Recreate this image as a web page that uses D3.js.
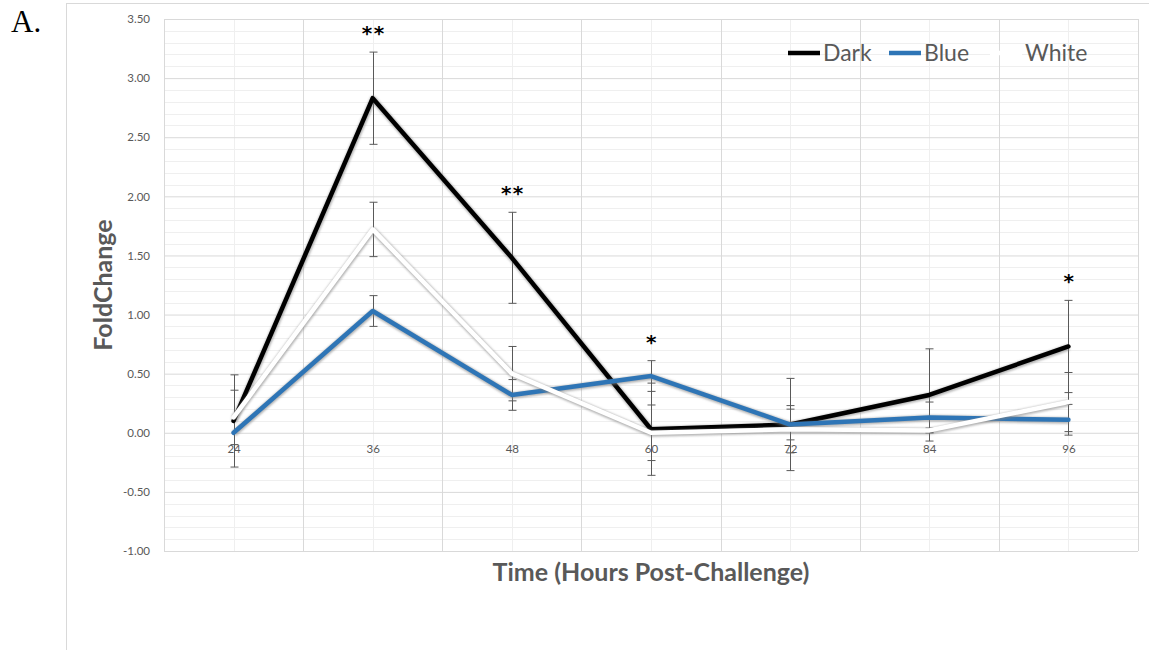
<!DOCTYPE html>
<html>
<head>
<meta charset="utf-8">
<script src="https://cdn.jsdelivr.net/npm/d3@7"></script>
<style>
  html, body { margin: 0; padding: 0; background: #fff; }
  svg { display: block; }
  text { font-family: Lato, "Open Sans", sans-serif; }
</style>
</head>
<body>
<svg id="chart" width="1149" height="650"></svg>
<script>
// Sampling times (hours after challenge)
const hours = ["24", "36", "48", "60", "72", "84", "96"];

// Mean fold change per light condition
const darkValues  = [0.10, 2.83, 1.48, 0.03, 0.07, 0.32, 0.73];
const blueValues  = [0.00, 1.03, 0.32, 0.48, 0.07, 0.13, 0.11];
const whiteValues = [0.13, 1.72, 0.50, 0.00, 0.03, 0.02, 0.26];

// Error bar half-widths
const darkErr  = [0.39, 0.39, 0.385, 0.39, 0.39, 0.39, 0.39];
const blueErr  = [0.00, 0.13, 0.13, 0.13, 0.13, 0.13, 0.13];
const whiteErr = [0.23, 0.23, 0.23, 0.235, 0.20, 0.02, 0.25];

// Significance marks above the highest error bar at each time
const significance = ["", "**", "**", "*", "", "", "*"];

const yTicks = [-1.0, -0.5, 0.0, 0.5, 1.0, 1.5, 2.0, 2.5, 3.0, 3.5];
const seriesNames = ["Dark", "Blue", "White"];

const series = [
  { name: seriesNames[0], values: darkValues,  err: darkErr,  color: "#000000" },
  { name: seriesNames[1], values: blueValues,  err: blueErr,  color: "#2E75B6" },
  { name: seriesNames[2], values: whiteValues, err: whiteErr, color: "#FFFFFF" }
];

const svg = d3.select("#chart");
const plot = { left: 164, right: 1138, top: 19, bottom: 551 };

const x = d3.scalePoint().domain(hours).range([plot.left, plot.right]).padding(0.5);
const band = d3.scaleBand().domain(hours).range([plot.left, plot.right]);
const y = d3.scaleLinear().domain([-1, 3.5]).range([plot.bottom, plot.top]);

// Two decimals with a plain hyphen for negatives
const fmt2 = d => d3.format(".2f")(d).replace("\u2212", "-");

// Panel letter
svg.append("text")
  .attr("x", 11).attr("y", 32)
  .style("font-family", "'Liberation Serif', 'DejaVu Serif', serif")
  .style("font-size", "31px")
  .attr("fill", "#000")
  .text("A.");

// Chart area frame
svg.append("rect")
  .attr("x", 66.5).attr("y", 3.5)
  .attr("width", 1200).attr("height", 800)
  .attr("fill", "none").attr("stroke", "#d9d9d9").attr("stroke-width", 1);

// Minor horizontal gridlines (every 0.1)
const minorY = d3.range(-10, 36).map(d => d / 10).filter(v => Math.abs(v * 2 - Math.round(v * 2)) > 1e-6);
svg.append("g").selectAll("line").data(minorY).join("line")
  .attr("x1", plot.left).attr("x2", plot.right)
  .attr("y1", d => Math.round(y(d)) + 0.5).attr("y2", d => Math.round(y(d)) + 0.5)
  .attr("stroke", "#efefef").attr("stroke-width", 1);

// Minor vertical gridlines at the sampling times
svg.append("g").selectAll("line").data(hours).join("line")
  .attr("x1", d => Math.round(x(d)) + 0.5).attr("x2", d => Math.round(x(d)) + 0.5)
  .attr("y1", plot.top).attr("y2", plot.bottom)
  .attr("stroke", "#efefef").attr("stroke-width", 1);

// Major horizontal gridlines with tick labels
const yAxis = svg.append("g")
  .attr("transform", `translate(${plot.left},0)`)
  .call(d3.axisLeft(y).tickValues(yTicks).tickFormat(fmt2)
    .tickSize(-(plot.right - plot.left)).tickPadding(14));
yAxis.select(".domain").remove();
yAxis.selectAll(".tick line").attr("stroke", "#d9d9d9");
yAxis.selectAll(".tick text")
  .attr("fill", "#595959")
  .style("font-size", "11.5px")
  .style("font-family", "Lato, sans-serif");

// Major vertical gridlines at category boundaries
const bounds = hours.map(h => band(h)).concat([plot.right]);
svg.append("g").selectAll("line").data(bounds).join("line")
  .attr("x1", d => Math.round(d) + 0.5).attr("x2", d => Math.round(d) + 0.5)
  .attr("y1", plot.top).attr("y2", plot.bottom)
  .attr("stroke", "#d9d9d9").attr("stroke-width", 1);

// Category labels sit at the zero line
const xAxis = svg.append("g")
  .attr("transform", `translate(0,${y(0)})`)
  .call(d3.axisBottom(x).tickSize(0).tickPadding(12));
xAxis.select(".domain").remove();
xAxis.selectAll(".tick text")
  .attr("fill", "#595959")
  .style("font-size", "11.5px")
  .style("font-family", "Lato, sans-serif");

// Blur used for the soft halo under each series line
const defs = svg.append("defs");
defs.append("filter").attr("id", "halo")
  .attr("x", "-5%").attr("y", "-10%").attr("width", "110%").attr("height", "120%")
  .append("feGaussianBlur").attr("stdDeviation", 0.8);

// Error bars
const errG = svg.append("g");
series.forEach(s => {
  hours.forEach((h, i) => {
    const e = s.err[i];
    if (!e) return;
    const cx = Math.round(x(h)) + 0.5;
    const top = y(s.values[i] + e), bot = y(s.values[i] - e);
    errG.append("line").attr("x1", cx).attr("x2", cx).attr("y1", top).attr("y2", bot)
      .attr("stroke", "#595959").attr("stroke-width", 1);
    [top, bot].forEach(v => {
      errG.append("line").attr("x1", cx - 4).attr("x2", cx + 4).attr("y1", v).attr("y2", v)
        .attr("stroke", "#595959").attr("stroke-width", 1);
    });
  });
});

// Series lines, each drawn over a blurred grey halo
const line = d3.line().x((d, i) => x(hours[i])).y(d => y(d));
const seriesG = svg.append("g").selectAll("g").data(series).join("g");
seriesG.append("path")
  .attr("d", d => line(d.values))
  .attr("transform", "translate(0.4,0.8)")
  .attr("fill", "none")
  .attr("stroke", "#808080")
  .attr("stroke-opacity", 0.6)
  .attr("stroke-width", 6.2)
  .attr("stroke-linejoin", "round")
  .attr("filter", "url(#halo)");
seriesG.append("path")
  .attr("d", d => line(d.values))
  .attr("fill", "none")
  .attr("stroke", d => d.color)
  .attr("stroke-width", 4.5)
  .attr("stroke-linejoin", "round")
  .attr("stroke-linecap", "round");

// Significance asterisks
const topOfBars = hours.map((h, i) => d3.max(series, s => s.values[i] + s.err[i]));
svg.append("g").selectAll("text").data(hours.map((h, i) => ({ h, i })).filter(d => significance[d.i]))
  .join("text")
  .attr("x", d => x(d.h) + 1)
  .attr("y", d => y(topOfBars[d.i]) - 12)
  .attr("text-anchor", "middle")
  .style("font-family", "'DejaVu Sans', sans-serif")
  .style("font-weight", "bold")
  .style("font-size", "20px")
  .style("letter-spacing", "1.5px")
  .attr("fill", "#000")
  .text(d => significance[d.i]);

// Legend
const legend = svg.append("g").attr("transform", "translate(788,53)");
const item = legend.selectAll("g").data(series).join("g")
  .attr("transform", (d, i) => `translate(${i * 101},0)`);
item.append("line").attr("x1", 0).attr("x2", 32).attr("y1", 0).attr("y2", 0)
  .attr("stroke", d => d.color).attr("stroke-width", 4.5);
item.append("text").attr("x", 35).attr("y", 0).attr("dy", "0.36em")
  .attr("fill", "#595959")
  .style("font-size", "23px")
  .text(d => d.name);

// Axis titles
svg.append("text")
  .attr("x", (plot.left + plot.right) / 2).attr("y", 581)
  .attr("text-anchor", "middle")
  .attr("fill", "#595959")
  .style("font-weight", "bold")
  .style("font-size", "25px")
  .text("Time (Hours Post-Challenge)");

svg.append("text")
  .attr("transform", "translate(112,285) rotate(-90)")
  .attr("text-anchor", "middle")
  .attr("fill", "#595959")
  .style("font-weight", "bold")
  .style("font-size", "25px")
  .text("FoldChange");
</script>
</body>
</html>
